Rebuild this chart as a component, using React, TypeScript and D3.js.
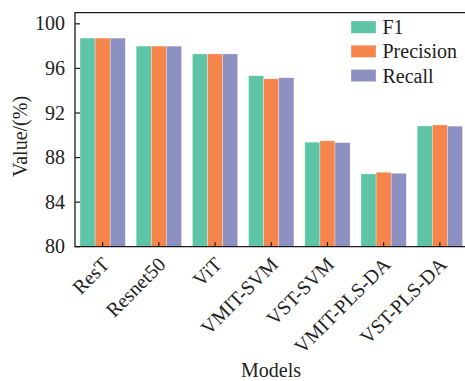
import React, { useEffect, useRef } from 'react';
import * as d3 from 'd3';

const WIDTH = 465;
const HEIGHT = 381;

const models = ['ResT', 'Resnet50', 'ViT', 'VMIT-SVM', 'VST-SVM', 'VMIT-PLS-DA', 'VST-PLS-DA'];
const metrics = ['F1', 'Precision', 'Recall'];
const f1 = [98.72, 98.0, 97.3, 95.34, 89.38, 86.53, 90.84];
const precision = [98.72, 98.0, 97.3, 95.07, 89.5, 86.68, 90.93];
const recall = [98.72, 98.0, 97.3, 95.16, 89.34, 86.59, 90.82];
const yTicks = [80, 84, 88, 92, 96, 100];
const colors = ['#5ec4a6', '#f6854c', '#8d91c2'];

const FONT = '"Times New Roman", "Liberation Serif", serif';

export default function App() {
  const ref = useRef<SVGSVGElement>(null);

  useEffect(() => {
    const svg = d3.select(ref.current);
    svg.selectAll('*').remove();

    const left = 75, top = 12.7, bottom = 246.7, right = 467.5;
    const series = [f1, precision, recall];

    const x = d3.scaleBand<string>()
      .domain(models)
      .range([left, right])
      .paddingInner(0.194)
      .paddingOuter(0.089);
    const xi = d3.scaleBand<string>()
      .domain(metrics)
      .range([0, x.bandwidth()]);
    const y = d3.scaleLinear().domain([80, 101]).range([bottom, top]);

    // bars
    const g = svg.append('g');
    models.forEach((m, i) => {
      metrics.forEach((s, j) => {
        g.append('rect')
          .attr('x', x(m)! + xi(s)!)
          .attr('y', y(series[j][i]))
          .attr('width', xi.bandwidth())
          .attr('height', bottom - y(series[j][i]))
          .attr('fill', colors[j])
          .attr('stroke', 'rgba(255,255,255,0.5)')
          .attr('stroke-width', 0.6);
      });
    });

    // frame
    svg.append('path')
      .attr('d', `M${right},${top}H${left}V${bottom}H${right}`)
      .attr('fill', 'none')
      .attr('stroke', '#1a1a1a')
      .attr('stroke-width', 1.3);

    // y axis
    const ya = svg.append('g').style('font-family', FONT).attr('font-size', 20).attr('fill', '#222');
    yTicks.forEach(t => {
      ya.append('line')
        .attr('x1', left).attr('x2', left + 5)
        .attr('y1', y(t)).attr('y2', y(t))
        .attr('stroke', '#1a1a1a').attr('stroke-width', 1.2);
      ya.append('text')
        .attr('x', left - 10)
        .attr('y', y(t))
        .attr('dy', '0.33em')
        .attr('text-anchor', 'end')
        .text(t);
    });

    // x axis
    const xa = svg.append('g').style('font-family', FONT).attr('font-size', 20).attr('fill', '#222');
    models.forEach(m => {
      const cx = x(m)! + x.bandwidth() / 2;
      xa.append('line')
        .attr('x1', cx).attr('x2', cx)
        .attr('y1', bottom).attr('y2', bottom - 4.5)
        .attr('stroke', '#1a1a1a').attr('stroke-width', 1.2);
      xa.append('text')
        .attr('transform', `translate(${cx + 8},${bottom + 19}) rotate(-45)`)
        .attr('text-anchor', 'end')
        .text(m);
    });

    // axis titles
    svg.append('text')
      .attr('transform', `translate(27,136.5) rotate(-90)`)
      .attr('text-anchor', 'middle')
      .style('font-family', FONT).attr('font-size', 20).attr('fill', '#222')
      .text('Value/(%)');
    svg.append('text')
      .attr('x', 271).attr('y', 377)
      .attr('text-anchor', 'middle')
      .style('font-family', FONT).attr('font-size', 20).attr('fill', '#222')
      .text('Models');

    // legend
    const lg = svg.append('g').style('font-family', FONT).attr('font-size', 20).attr('fill', '#222');
    metrics.forEach((s, j) => {
      const ly = 21 + j * 24.2;
      lg.append('rect')
        .attr('x', 351).attr('y', ly)
        .attr('width', 25).attr('height', 12.3)
        .attr('fill', colors[j])
        .attr('stroke', 'rgba(255,255,255,0.5)')
        .attr('stroke-width', 0.6);
      lg.append('text')
        .attr('x', 382.5).attr('y', ly + 6.2)
        .attr('dy', '0.35em')
        .text(s);
    });
  }, []);

  return (
    <svg
      ref={ref}
      width={WIDTH}
      height={HEIGHT}
      style={{ position: 'absolute', left: 0, top: 0, background: '#fff' }}
    />
  );
}
